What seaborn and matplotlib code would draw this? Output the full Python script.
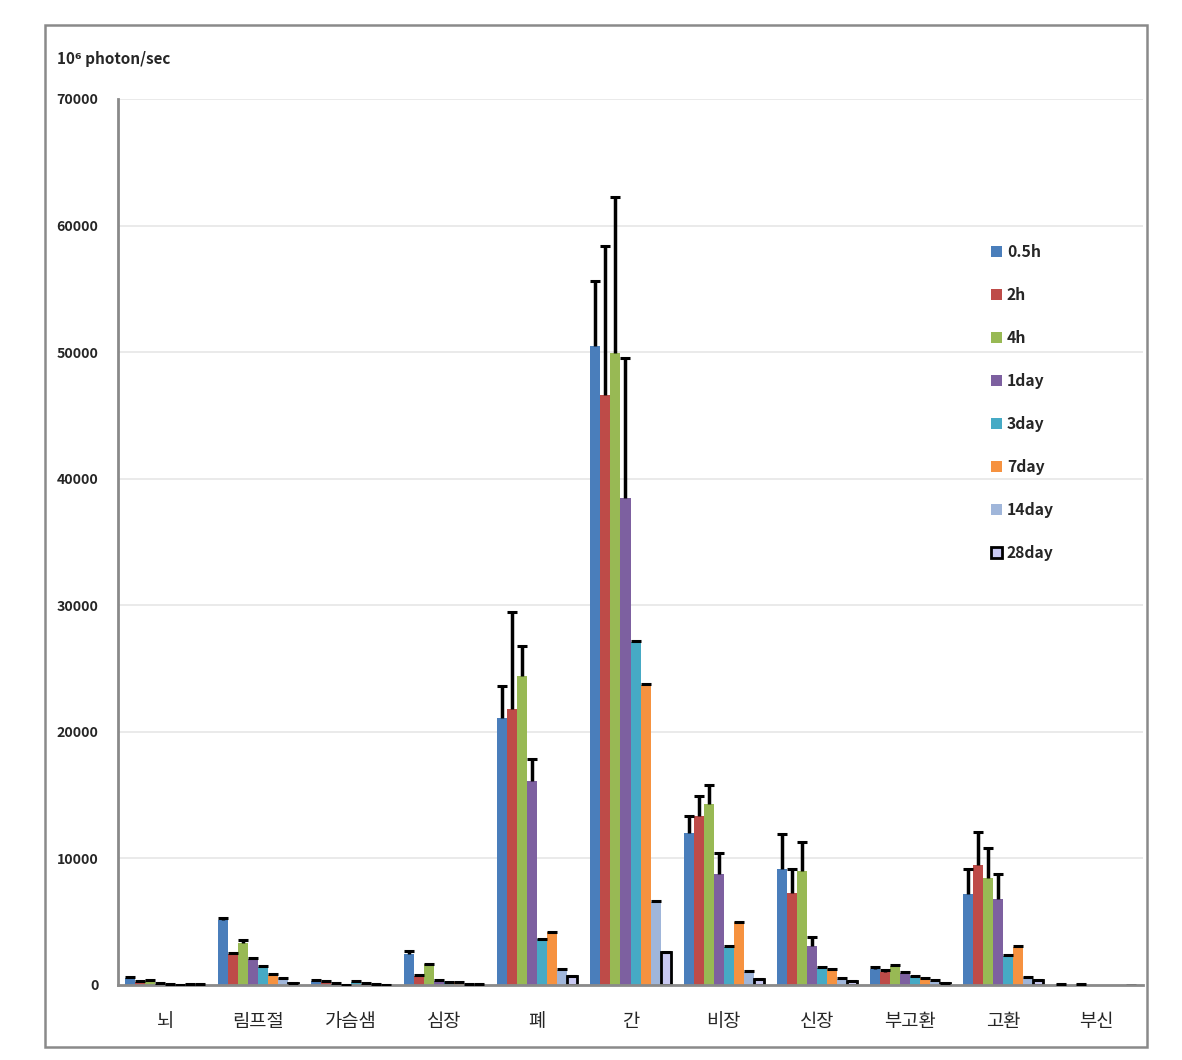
import numpy as np
import pandas as pd
import seaborn as sns
import matplotlib.pyplot as plt
from matplotlib.patches import Rectangle

organs = ['뇌', '림프절', '가슴샘', '심장', '폐', '간', '비장', '신장', '부고환', '고환', '부신']
times = ['0.5h', '2h', '4h', '1day', '3day', '7day', '14day', '28day']

# mean signal per organ, one list per time point (10^6 photon/sec)
v_05h = [550, 5150, 300, 2450, 21100, 50500, 12000, 9200, 1250, 7200, 60]
v_2h = [250, 2450, 250, 700, 21800, 46600, 13350, 7300, 1050, 9500, 0]
v_4h = [350, 3300, 100, 1630, 24400, 49900, 14300, 9000, 1480, 8480, 50]
v_1day = [100, 2050, 20, 350, 16100, 38500, 8800, 3050, 925, 6770, 0]
v_3day = [80, 1450, 250, 200, 3600, 27100, 3000, 1350, 690, 2320, 0]
v_7day = [10, 800, 100, 200, 4150, 23700, 4950, 1250, 550, 3030, 0]
v_14day = [50, 550, 50, 80, 1150, 6550, 1050, 500, 340, 610, 20]
v_28day = [30, 150, 20, 30, 700, 2600, 450, 300, 130, 400, 30]

# upper error (SD)
e_05h = [60, 150, 60, 250, 2500, 5100, 1350, 2700, 150, 2000, 30]
e_2h = [40, 60, 60, 60, 7700, 11800, 1550, 1850, 100, 2600, 0]
e_4h = [40, 250, 30, 60, 2350, 12350, 1500, 2300, 80, 2370, 30]
e_1day = [20, 60, 10, 40, 1750, 11000, 1600, 750, 70, 2030, 0]
e_3day = [20, 40, 40, 20, 60, 60, 60, 50, 40, 30, 0]
e_7day = [10, 40, 20, 20, 60, 60, 60, 40, 30, 60, 0]
e_14day = [10, 30, 10, 10, 80, 60, 50, 40, 20, 30, 0]
e_28day = [10, 20, 10, 10, 40, 40, 40, 30, 20, 30, 0]

values = [v_05h, v_2h, v_4h, v_1day, v_3day, v_7day, v_14day, v_28day]
errors = [e_05h, e_2h, e_4h, e_1day, e_3day, e_7day, e_14day, e_28day]
colors = ['#4A7EBB', '#BE4B48', '#98B954', '#7D60A0', '#46AAC5', '#F69240', '#A0B6DA', '#C9C9F2']

rows = []
for t, vals in zip(times, values):
    for o, v in zip(organs, vals):
        rows.append({'organ': o, 'time': t, 'value': v})
df = pd.DataFrame(rows)

sns.set_style('white')
plt.rcParams['font.family'] = ['Noto Sans CJK KR', 'DejaVu Sans']

fig = plt.figure(figsize=(11.82, 10.60), dpi=100)
ax = fig.add_axes([118 / 1182, 75 / 1060, 1025 / 1182, 886 / 1060])

sns.barplot(data=df, x='organ', y='value', hue='time', order=organs, hue_order=times,
            palette=colors, errorbar=None, width=0.86, gap=0, linewidth=0,
            saturation=1, ax=ax)

bar_conts = list(ax.containers)
for i, cont in enumerate(bar_conts):
    xs = [p.get_x() + p.get_width() / 2 for p in cont]
    hs = [p.get_height() for p in cont]
    err = np.array(errors[i], dtype=float)
    if times[i] == '28day':
        for p, h in zip(cont, hs):
            if h > 0:
                p.set_edgecolor('black')
                p.set_linewidth(2)
    keep = err > 0
    eb = ax.errorbar(np.array(xs)[keep], np.array(hs)[keep],
                     yerr=[np.zeros(keep.sum()), err[keep]], fmt='none',
                     ecolor='black', elinewidth=2.5, capsize=3.5, capthick=2.2, zorder=3)
    # plus-only error bars: hide the cap at the bar top
    eb[1][0].set_visible(False)

ax.set_ylim(0, 70000)
ax.set_xlim(-0.5, len(organs) - 0.5)
ax.set_yticks(np.arange(0, 70001, 10000))
ax.yaxis.grid(True, color='#E6E6E6', linewidth=1.2)
ax.set_axisbelow(True)
ax.set_xlabel('')
ax.set_ylabel('')

for s in ['top', 'right']:
    ax.spines[s].set_visible(False)
for s in ['left', 'bottom']:
    ax.spines[s].set_color('#8A8A8A')
    ax.spines[s].set_linewidth(2)

ax.set_xticks(np.arange(-0.5, len(organs)), minor=True)
ax.tick_params(axis='x', which='minor', length=6, width=1.5, color='#8A8A8A', direction='out')
ax.tick_params(axis='x', which='major', length=0, pad=19, labelsize=13.5)
ax.tick_params(axis='y', length=6, width=1.5, color='#8A8A8A', direction='out', pad=8, labelsize=10.2)
for lab in ax.get_yticklabels():
    lab.set_fontweight('bold')

fig.text(57 / 1182, 1 - 59 / 1060, '10⁶ photon/sec', fontsize=11, fontweight='bold',
         ha='left', va='center')

handles, labels = ax.get_legend_handles_labels()
leg = ax.legend(handles, labels, loc='upper left', bbox_to_anchor=(977 / 1182, 1 - 230 / 1060),
                bbox_transform=fig.transFigure, frameon=False, fontsize=11.3,
                labelspacing=1.72, handlelength=0.7, handleheight=0.7, handletextpad=0.3)
for t in leg.get_texts():
    t.set_fontweight('bold')
leg.legend_handles[-1].set_edgecolor('black')
leg.legend_handles[-1].set_linewidth(2)

fig.patches.append(Rectangle((45 / 1182, 13 / 1060), 1102 / 1182, 1022 / 1060,
                             transform=fig.transFigure, fill=False,
                             edgecolor='#8A8A8A', linewidth=1.8))

fig.savefig('out.png', dpi=100)
